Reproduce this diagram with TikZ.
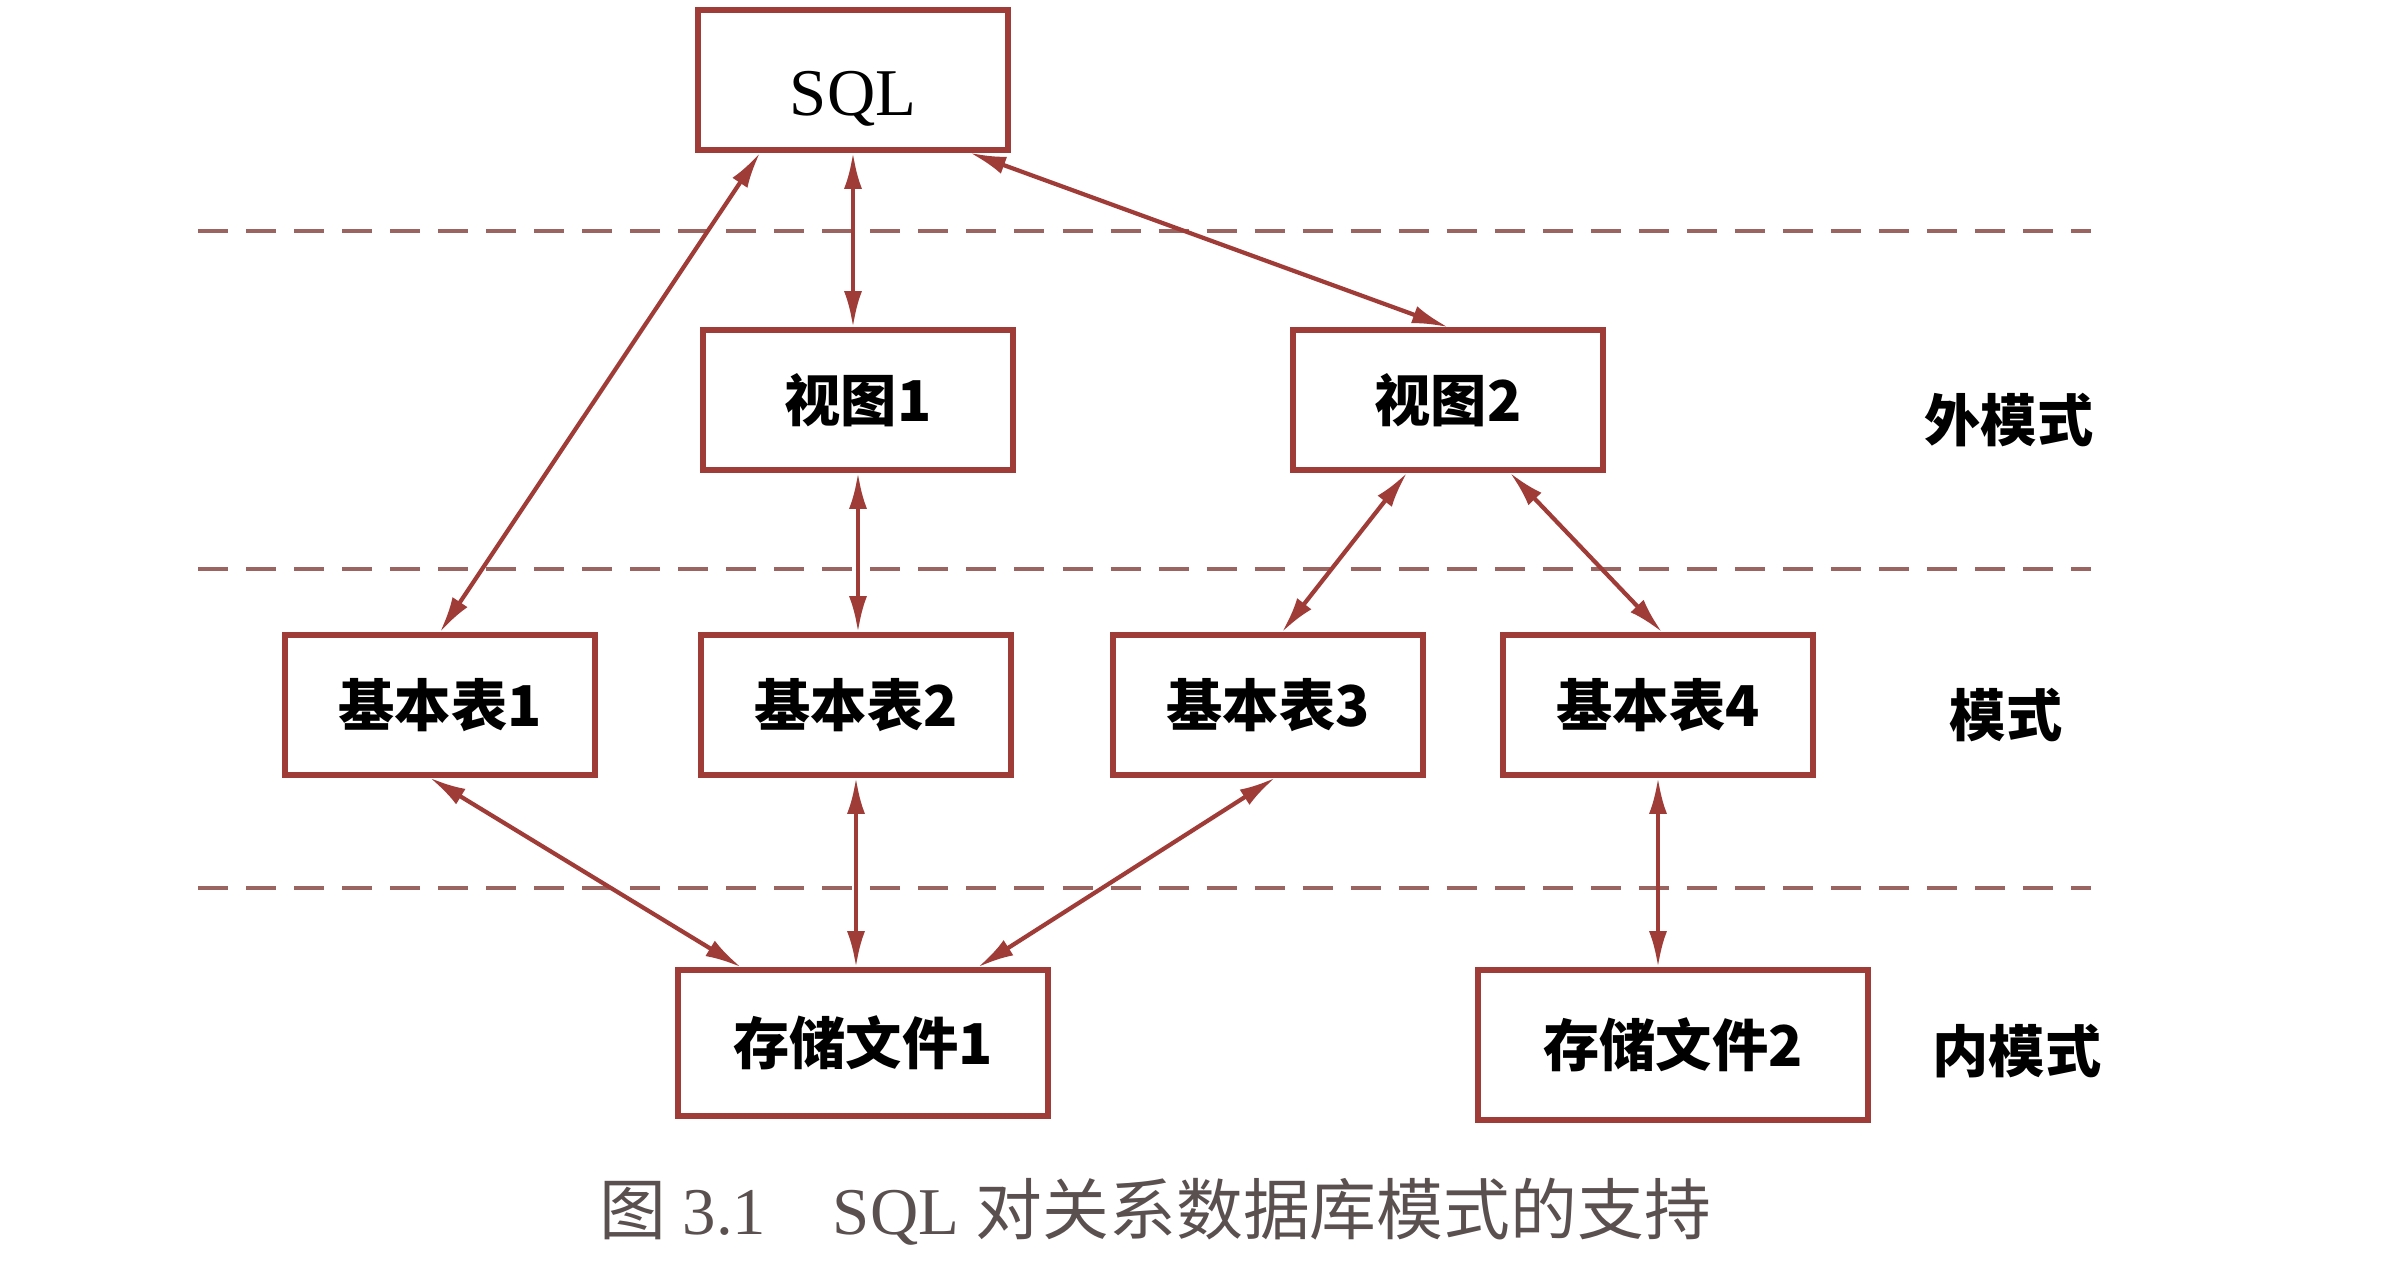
\documentclass[tikz,border=0pt]{standalone}
\usepackage{fontspec}
\setmainfont{Liberation Serif}
\newfontfamily\cjk{Noto Sans CJK SC}
\usetikzlibrary{arrows.meta}
\definecolor{cred}{HTML}{A03C37}
\definecolor{cdash}{HTML}{9A6460}
\definecolor{cgray}{HTML}{5A5050}

\begin{document}
\begin{tikzpicture}[x=0.01cm,y=-0.01cm,>={Latex[length=3.6mm,width=1.8mm]}]
  \tikzstyle{b}=[draw=cred,line width=1.6pt,minimum width=3.1cm,minimum height=1.4cm,inner sep=0pt,font=\cjk\bfseries\fontsize{16pt}{19pt}\selectfont]
  \tikzstyle{c}=[cred,line width=1.2pt,<->]
  \tikzstyle{lvl}=[cdash,line width=1pt,dash pattern=on 0.3cm off 0.18cm]
  \tikzstyle{lab}=[font=\cjk\bfseries\fontsize{16pt}{19pt}\selectfont]
  \useasboundingbox (0,0) rectangle (2385,1280);
  % levels
  \draw[lvl] (198,231) -- (2091,231);
  \draw[lvl] (198,569) -- (2091,569);
  \draw[lvl] (198,888) -- (2091,888);
  % boxes
  \node[b,font=\fontsize{19pt}{20pt}\selectfont,text height=0.7cm,text depth=0pt] (sql) at (853,80) {SQL};
  \node[b] (v1) at (858,400) {视图1};
  \node[b] (v2) at (1448,400) {视图2};
  \node[b] (t1) at (440,705) {基本表1};
  \node[b] (t2) at (856,705) {基本表2};
  \node[b] (t3) at (1268,705) {基本表3};
  \node[b] (t4) at (1658,705) {基本表4};
  \node[b,minimum width=3.7cm,minimum height=1.46cm] (f1) at (863,1043) {存储文件1};
  \node[b,minimum width=3.9cm,minimum height=1.5cm] (f2) at (1673,1045) {存储文件2};
  % level names
  \node[lab] (ext) at (2009,420) {外模式};
  \node[lab] (con) at (2006,715) {模式};
  \node[lab] (int) at (2017,1051) {内模式};
  % mappings
  \draw[c] ([xshift=-0.93cm]sql.south) -- (t1.north);
  \draw[c] (sql.south) -- (sql.south |- v1.north);
  \draw[c] ([xshift=1.17cm]sql.south) -- (v2.north);
  \draw[c] (v1.south) -- (v1.south |- t2.north);
  \draw[c] ([xshift=-0.41cm]v2.south) -- ([xshift=0.14cm]t3.north);
  \draw[c] ([xshift=0.62cm]v2.south) -- ([xshift=0.04cm]t4.north);
  \draw[c] ([xshift=-0.1cm]t1.south) -- ([xshift=-1.22cm]f1.north);
  \draw[c] (t2.south) -- (t2.south |- f1.north);
  \draw[c] ([xshift=0.07cm]t3.south) -- ([xshift=1.15cm]f1.north);
  \draw[c] (t4.south) -- (t4.south |- f2.north);
  % caption
  \node[cgray,font=\fontsize{19pt}{22pt}\selectfont] (cap) at (1155,1212) {{\cjk 图} 3.1\quad SQL {\cjk 对关系数据库模式的支持}};
\end{tikzpicture}
\end{document}
